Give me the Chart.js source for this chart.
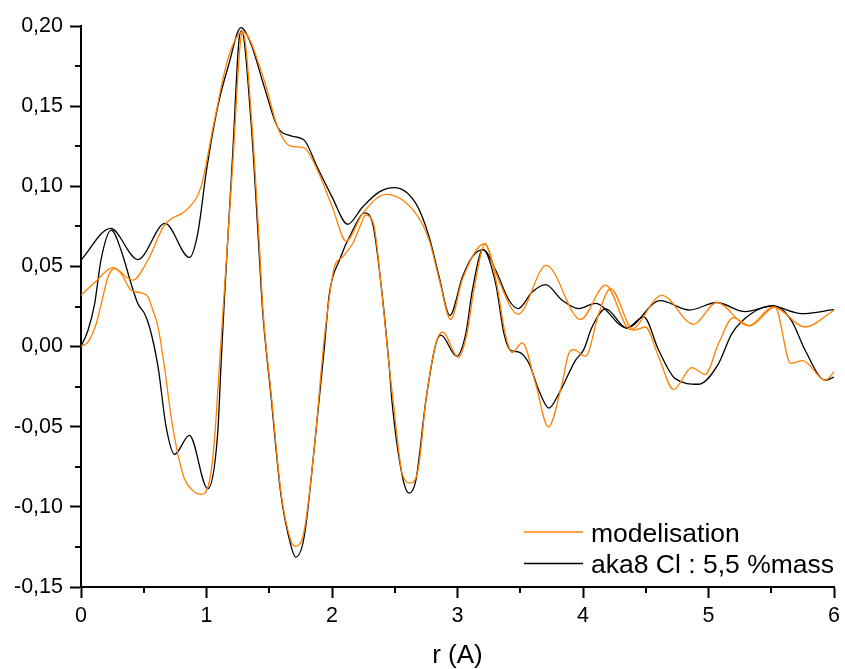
<!DOCTYPE html>
<html>
<head>
<meta charset="utf-8">
<title>r (A)</title>
<script src="https://cdn.jsdelivr.net/npm/chart.js@4.4.1/dist/chart.umd.min.js"></script>
<style>
  html, body { margin: 0; padding: 0; background: #fff; }
  canvas { display: block; }
</style>
</head>
<body>
<canvas id="ft-chart" width="845" height="669"></canvas>
<script>
// valeurs : r (A) et amplitude, une paire de tableaux par courbe
const modMagR = [0, 0.109, 0.254, 0.413, 0.533, 0.665, 0.851, 0.956, 1.063, 1.169, 1.288, 1.46, 1.566, 1.672, 1.778, 1.884, 2.003, 2.112, 2.244, 2.43, 2.668, 2.774, 2.854, 2.946, 3.039, 3.219, 3.31, 3.484, 3.707, 3.98, 4.179, 4.378, 4.628, 4.881, 5.064, 5.318, 5.517, 5.77, 6.0];
const modMagV = [0.032, 0.040, 0.0493, 0.0414, 0.054, 0.0757, 0.0861, 0.0996, 0.141, 0.179, 0.1964, 0.166, 0.137, 0.125, 0.124, 0.110, 0.087, 0.0659, 0.083, 0.0949, 0.083, 0.0664, 0.042, 0.0169, 0.042, 0.0643, 0.045, 0.0202, 0.0507, 0.0169, 0.0383, 0.0105, 0.032, 0.0139, 0.0275, 0.013, 0.0247, 0.0122, 0.0227];

const modImR = [0, 0.056, 0.122, 0.162, 0.215, 0.267, 0.32, 0.4, 0.48, 0.533, 0.573, 0.614, 0.665, 0.718, 0.771, 0.824, 0.89, 0.956, 1.022, 1.063, 1.102, 1.137, 1.21, 1.27, 1.29, 1.36, 1.425, 1.45, 1.515, 1.595, 1.672, 1.711, 1.778, 1.857, 1.937, 1.979, 2.019, 2.085, 2.165, 2.244, 2.265, 2.33, 2.39, 2.456, 2.49, 2.562, 2.628, 2.69, 2.748, 2.828, 2.881, 3.007, 3.075, 3.13, 3.219, 3.31, 3.38, 3.436, 3.516, 3.622, 3.723, 3.833, 3.886, 3.926, 4.02, 4.126, 4.219, 4.404, 4.497, 4.603, 4.722, 4.866, 4.974, 5.08, 5.198, 5.33, 5.53, 5.655, 5.75, 5.93, 6.0];
const modImV = [0, 0.003, 0.0144, 0.0268, 0.0434, 0.0487, 0.0456, 0.0351, 0.0335, 0.031, 0.0227, 0.0122, -0.0127, -0.0439, -0.0668, -0.0824, -0.0897, -0.0922, -0.0845, -0.0585, -0.0127, 0.029, 0.115, 0.19, 0.196, 0.141, 0.058, 0.0227, -0.0293, -0.0918, -0.121, -0.1247, -0.115, -0.0647, 0.004, 0.031, 0.0497, 0.056, 0.0643, 0.0788, 0.082, 0.0768, 0.0393, -0.0127, -0.036, -0.08, -0.0851, -0.075, -0.0336, 0.0019, 0.0091, -0.0069, 0.008, 0.035, 0.0637, 0.04, 0.008, -0.0037, 0.0023, -0.023, -0.0502, -0.0231, -0.0044, -0.0019, -0.006, 0.0206, 0.0362, 0.0102, 0.0122, -0.0065, -0.0268, -0.0131, -0.0173, 0.0019, 0.0181, 0.0129, 0.0247, -0.0105, -0.0088, -0.021, -0.0158];

const expMagR = [0, 0.236, 0.453, 0.67, 0.864, 0.93, 1.0, 1.089, 1.18, 1.274, 1.354, 1.46, 1.566, 1.672, 1.778, 1.882, 2.0, 2.125, 2.244, 2.377, 2.496, 2.668, 2.774, 2.854, 2.939, 3.039, 3.118, 3.203, 3.304, 3.41, 3.484, 3.595, 3.702, 3.834, 3.967, 4.099, 4.348, 4.616, 4.849, 5.064, 5.292, 5.503, 5.742, 6.0];
const expMagV = [0.054, 0.0737, 0.0543, 0.0768, 0.0556, 0.0705, 0.11, 0.1496, 0.1767, 0.199, 0.189, 0.162, 0.137, 0.1315, 0.1288, 0.112, 0.0934, 0.0763, 0.0871, 0.0965, 0.0992, 0.0893, 0.0684, 0.0434, 0.0195, 0.0434, 0.056, 0.0605, 0.0476, 0.0289, 0.0237, 0.0341, 0.0387, 0.0289, 0.0237, 0.027, 0.0116, 0.0287, 0.0228, 0.0275, 0.0218, 0.0252, 0.0206, 0.023];

const expImR = [0, 0.056, 0.109, 0.159, 0.241, 0.32, 0.4, 0.453, 0.506, 0.546, 0.614, 0.678, 0.745, 0.864, 1.01, 1.089, 1.115, 1.142, 1.209, 1.261, 1.28, 1.354, 1.42, 1.447, 1.512, 1.592, 1.672, 1.711, 1.778, 1.857, 1.937, 1.979, 2.059, 2.165, 2.258, 2.324, 2.39, 2.456, 2.48, 2.562, 2.615, 2.668, 2.748, 2.828, 2.868, 2.994, 3.066, 3.118, 3.203, 3.304, 3.37, 3.423, 3.49, 3.57, 3.648, 3.728, 3.81, 3.94, 4.006, 4.072, 4.18, 4.348, 4.483, 4.603, 4.735, 4.921, 5.08, 5.186, 5.342, 5.52, 5.66, 5.77, 5.93, 6.0];
const expImV = [0, 0.0102, 0.0268, 0.054, 0.0726, 0.060, 0.039, 0.0268, 0.0206, 0.0122, -0.0127, -0.050, -0.0672, -0.0554, -0.0887, -0.0543, -0.0127, 0.029, 0.1205, 0.193, 0.197, 0.141, 0.058, 0.0227, -0.0293, -0.0918, -0.124, -0.1313, -0.1188, -0.0647, -0.0023, 0.033, 0.0539, 0.0726, 0.0834, 0.0768, 0.0393, -0.0127, -0.036, -0.0814, -0.0914, -0.0835, -0.0336, 0.0019, 0.0071, -0.006, 0.0081, 0.035, 0.0605, 0.0393, 0.0081, -0.0023, -0.0034, -0.0106, -0.0273, -0.0384, -0.029, -0.0086, -0.0019, 0.0122, 0.0235, 0.0116, 0.0185, -0.0023, -0.020, -0.0235, -0.0106, 0.0081, 0.0206, 0.0255, 0.0164, -0.0023, -0.021, -0.019];

const seriesLabels = ['modelisation', 'aka8 Cl : 5,5 %mass'];
const xTitle = 'r (A)';

const ORANGE = '#ff8000';
const BLACK = '#000000';
const FONT = "'Liberation Sans', Arial, sans-serif";

function pts(rs, vs) {
    return rs.map((r, i) => ({ x: r, y: vs[i] }));
}

function curve(label, rs, vs, color, inLegend) {
    return {
        label: label,
        data: pts(rs, vs),
        borderColor: color,
        backgroundColor: color,
        borderWidth: 1.3,
        pointRadius: 0,
        fill: false,
        cubicInterpolationMode: 'monotone',
        inLegend: inLegend
    };
}

// petits traits entre les graduations principales
const minorTicks = {
    id: 'minorTicks',
    afterDraw(chart) {
        const { ctx, chartArea } = chart;
        const xs = chart.scales.x, ys = chart.scales.y;
        ctx.save();
        ctx.strokeStyle = '#000';
        ctx.lineWidth = 2;
        ctx.beginPath();
        for (let i = 0; i < xs.ticks.length - 1; i++) {
            const px = Math.round(xs.getPixelForValue((xs.ticks[i].value + xs.ticks[i + 1].value) / 2));
            ctx.moveTo(px, chartArea.bottom);
            ctx.lineTo(px, chartArea.bottom + 6);
        }
        for (let i = 0; i < ys.ticks.length - 1; i++) {
            const py = Math.round(ys.getPixelForValue((ys.ticks[i].value + ys.ticks[i + 1].value) / 2));
            ctx.moveTo(chartArea.left, py);
            ctx.lineTo(chartArea.left - 6, py);
        }
        ctx.stroke();
        ctx.restore();
    }
};

// légende dans le coin bas droit de la zone de tracé
const cornerLegend = {
    id: 'cornerLegend',
    afterDraw(chart) {
        const { ctx, chartArea } = chart;
        const items = chart.data.datasets.filter(d => d.inLegend);
        ctx.save();
        ctx.font = '26.5px ' + FONT;
        ctx.fillStyle = '#000';
        ctx.textBaseline = 'alphabetic';
        items.forEach((d, i) => {
            const y = chartArea.bottom - 55 + i * 31.5;
            ctx.strokeStyle = d.borderColor;
            ctx.lineWidth = 1.5;
            ctx.beginPath();
            ctx.moveTo(chartArea.right - 310, y);
            ctx.lineTo(chartArea.right - 251, y);
            ctx.stroke();
            ctx.fillText(d.label, chartArea.right - 243, y + 9.5);
        });
        ctx.restore();
    }
};

const ctx = document.getElementById('ft-chart').getContext('2d');
const chart = new Chart(ctx, {
    type: 'line',
    data: {
        datasets: [
            curve(seriesLabels[0], modMagR, modMagV, ORANGE, true),
            curve(seriesLabels[0], modImR, modImV, ORANGE, false),
            curve(seriesLabels[1], expMagR, expMagV, BLACK, true),
            curve(seriesLabels[1], expImR, expImV, BLACK, false)
        ]
    },
    options: {
        responsive: false,
        animation: false,
        devicePixelRatio: 1,
        layout: {
            padding: { top: 26, right: 9, bottom: 0, left: 0 }
        },
        scales: {
            x: {
                type: 'linear',
                min: 0,
                max: 6,
                afterFit: s => { s.height = 82; },
                ticks: {
                    stepSize: 1,
                    padding: 5,
                    color: '#000',
                    font: { family: FONT, size: 21.5 },
                    callback: v => String(v)
                },
                grid: {
                    drawOnChartArea: false,
                    tickLength: 11,
                    tickWidth: 2,
                    tickColor: '#000'
                },
                border: { color: '#000', width: 2 },
                title: {
                    display: true,
                    text: xTitle,
                    color: '#000',
                    font: { family: FONT, size: 26, lineHeight: 1.0 },
                    padding: 0
                }
            },
            y: {
                min: -0.15,
                max: 0.2,
                afterFit: s => { s.width = 81; },
                ticks: {
                    stepSize: 0.05,
                    padding: 7,
                    color: '#000',
                    font: { family: FONT, size: 21.5 },
                    callback: v => v.toFixed(2).replace('.', ',')
                },
                grid: {
                    drawOnChartArea: false,
                    tickLength: 11,
                    tickWidth: 2,
                    tickColor: '#000'
                },
                border: { color: '#000', width: 2 }
            }
        },
        plugins: {
            legend: { display: false },
            tooltip: { enabled: false }
        }
    },
    plugins: [minorTicks, cornerLegend]
});
</script>
</body>
</html>
